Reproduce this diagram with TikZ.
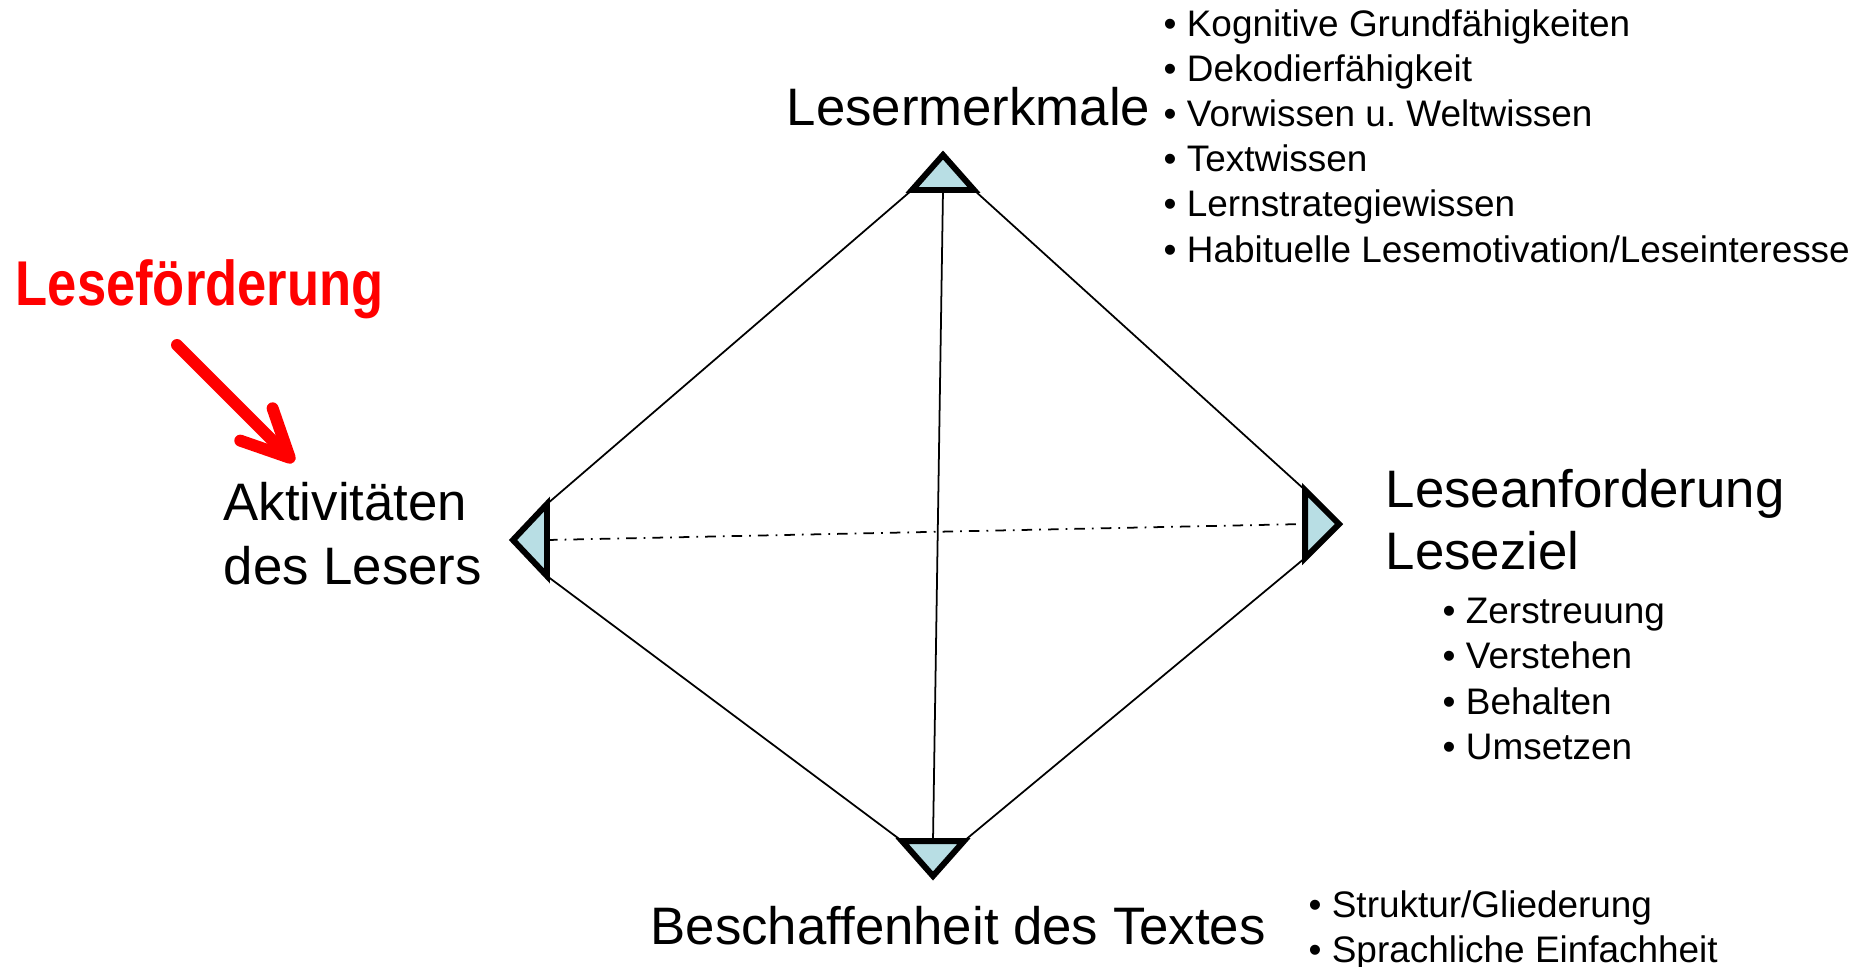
\documentclass[tikz,border=0pt]{standalone}
\usepackage{fontspec}
\setmainfont{Liberation Sans}
\newfontfamily\narrowfont{Liberation Sans}[FakeStretch=0.83]
\usetikzlibrary{positioning,arrows.meta,calc}
\definecolor{vertexfill}{RGB}{184,222,228}
\frenchspacing
\tikzset{
  vertex/.style={draw, line width=1.7pt, fill=vertexfill},
  edge/.style={line width=0.5pt},
  title/.style={font=\fontsize{15}{17.6}\selectfont, inner sep=0pt, anchor=base west, align=left},
  items/.style={font=\fontsize{10.5}{12.8}\selectfont, inner sep=0pt, anchor=base west, align=left},
}

\begin{document}
\begin{tikzpicture}[x=0.01cm, y=-0.01cm]
\useasboundingbox (0,0) rectangle (1857,966);

% corners of the four triangles
\coordinate (t1) at (912,190); \coordinate (t2) at (974,190); \coordinate (ta) at (943,155);
\coordinate (l1) at (547,504); \coordinate (l2) at (547,576); \coordinate (la) at (513,540);
\coordinate (r1) at (1305,490); \coordinate (r2) at (1305,558); \coordinate (ra) at (1339,524);
\coordinate (b1) at (902,841); \coordinate (b2) at (964,841); \coordinate (ba) at (933,876);
\coordinate (t) at ($(t1)!0.5!(t2)$);
\coordinate (l) at ($(l1)!0.5!(l2)$);
\coordinate (r) at ($(r1)!0.5!(r2)$);
\coordinate (b) at ($(b1)!0.5!(b2)$);

\draw[edge] (t1) -- (l1);
\draw[edge] (t2) -- (r1);
\draw[edge] (l2) -- (b1);
\draw[edge] (r2) -- (b2);
\draw[edge] (t) -- (b);
\draw[edge, dash dot] (l) -- (r);

\draw[vertex] (t1) -- (ta) -- (t2) -- cycle;
\draw[vertex] (l1) -- (la) -- (l2) -- cycle;
\draw[vertex] (r1) -- (ra) -- (r2) -- cycle;
\draw[vertex] (b1) -- (ba) -- (b2) -- cycle;

% labels (base = baseline of the last line)
\node[title] (leser) at (786,125) {Lesermerkmale};
\node[title, font=\fontsize{15}{18.2}\selectfont] (akt) at (223,584) {Aktivitäten\\des Lesers};
\node[title] (anf) at (1385,569) {Leseanforderung\\Leseziel};
\node[title] (text) at (650,944) {Beschaffenheit des Textes};

\node[items] (leserlist) at (1163,262) {• Kognitive Grundfähigkeiten\\• Dekodierfähigkeit\\• Vorwissen u. Weltwissen\\• Textwissen\\• Lernstrategiewissen\\• Habituelle Lesemotivation/Leseinteresse};
\node[items] (anflist) at (1442,759) {• Zerstreuung\\• Verstehen\\• Behalten\\• Umsetzen};
\node[items] (textlist) at (1308,962) {• Struktur/Gliederung\\• Sprachliche Einfachheit};

\node[font=\narrowfont\bfseries\fontsize{18}{20}\selectfont, text=red, inner sep=0pt, anchor=base west] (foerd) at (15,305) {Leseförderung};
\coordinate (pfeil1) at (177,345);
\coordinate (pfeil2) at (294,462);
\draw[red, line width=3.4pt, line cap=round, -{Straight Barb[length=13.4pt,width=13pt,round]}] (pfeil1) -- (pfeil2);

\end{tikzpicture}
\end{document}
